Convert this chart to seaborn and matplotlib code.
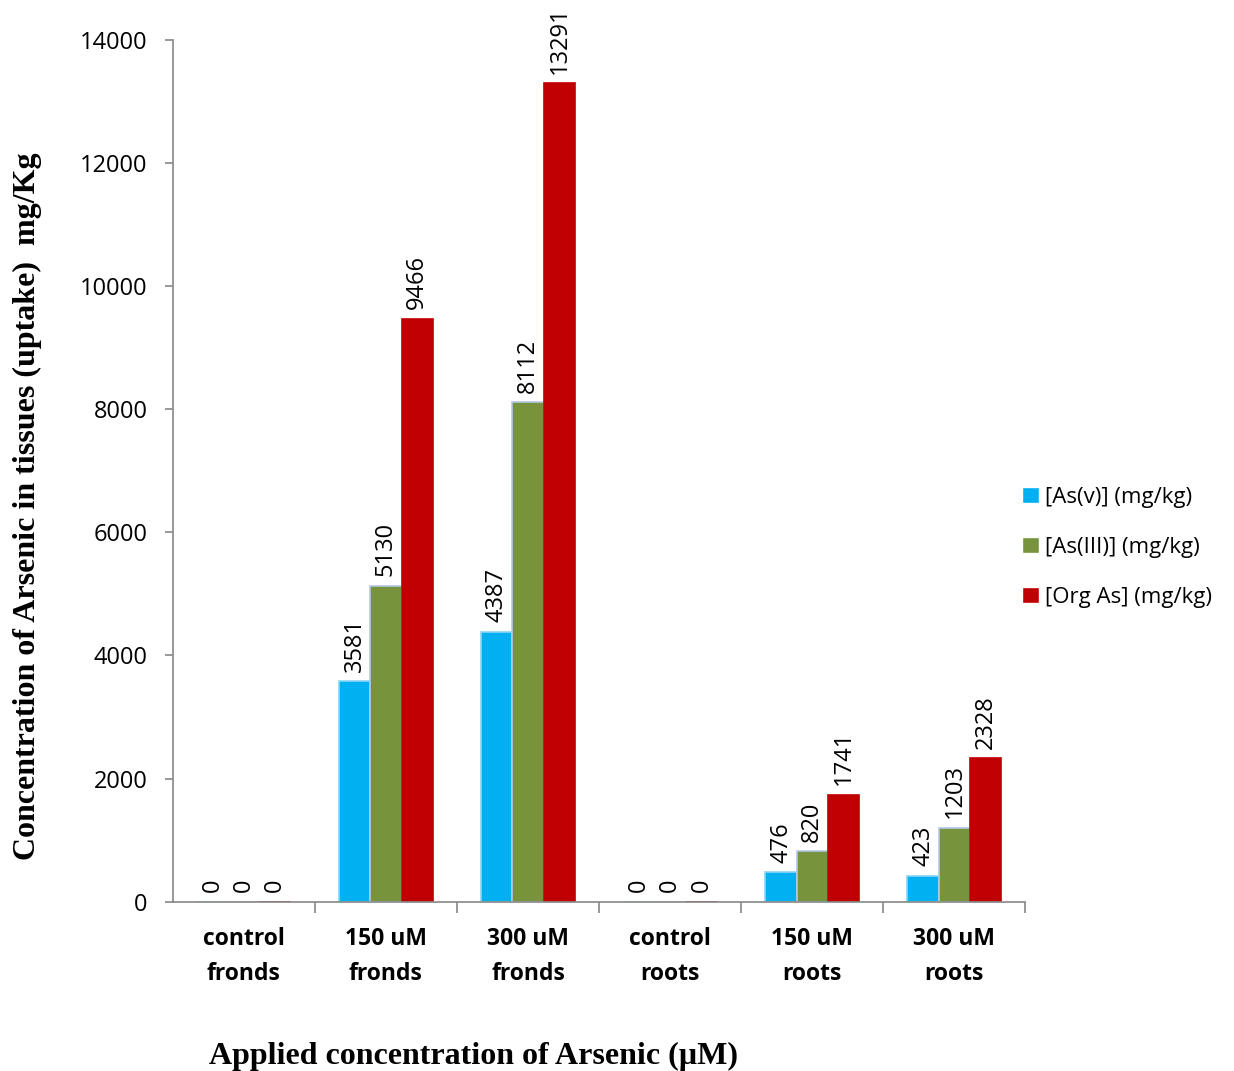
import numpy as np
import pandas as pd
import matplotlib
matplotlib.use("Agg")
import matplotlib.pyplot as plt
import seaborn as sns

# Data
categories = ["control\nfronds", "150 uM\nfronds", "300 uM\nfronds",
              "control\nroots", "150 uM\nroots", "300 uM\nroots"]
series_names = ["[As(v)] (mg/kg)", "[As(III)] (mg/kg)", "[Org As] (mg/kg)"]
as_v = [0, 3581, 4387, 0, 476, 423]
as_iii = [0, 5130, 8112, 0, 820, 1203]
org_as = [0, 9466, 13291, 0, 1741, 2328]
colors = ["#00B0F0", "#77933C", "#C00000"]

df = pd.DataFrame({
    "category": categories * 3,
    "series": np.repeat(series_names, len(categories)),
    "value": as_v + as_iii + org_as,
})

sns.set_theme(style="white", rc={"text.color": "black", "xtick.color": "black",
                                 "ytick.color": "black"})
plt.rcParams["font.family"] = ["Open Sans", "DejaVu Sans"]

fig = plt.figure(figsize=(12.34, 10.71), dpi=100)
ax = fig.add_axes([0.140, 0.158, 0.691, 0.805])

sns.barplot(data=df, x="category", y="value", hue="series", order=categories,
            hue_order=series_names, palette=colors, width=0.66, saturation=1,
            ax=ax, legend=True)

# thin light edges like the original
edge_cols = ["#8FD3F5", "#B4C7E7", "#C00000"]
for cont, ec in zip(ax.containers, edge_cols):
    for bar in cont:
        bar.set_edgecolor(ec)
        bar.set_linewidth(1.2)
    ax.bar_label(cont, fmt="%g", rotation=90, padding=7, fontsize=17)

ax.set_ylim(0, 14000)
ax.set_xlim(-0.5, 5.5)
ax.set_yticks(np.arange(0, 14001, 2000))
ax.tick_params(axis="y", labelsize=17, left=True, length=6, width=1.2,
               color="#888888", labelcolor="black", pad=12)
ax.set_xticks(range(len(categories)))
ax.set_xticklabels(categories, fontsize=16.5, fontweight="bold", linespacing=1.65)
ax.tick_params(axis="x", which="major", length=0, pad=18, labelcolor="black")
ax.set_xticks(np.arange(0.5, 6.0, 1.0), minor=True)
ax.tick_params(axis="x", which="minor", bottom=True, length=8, width=1.2,
               color="#888888")

for side in ["top", "right"]:
    ax.spines[side].set_visible(False)
for side in ["left", "bottom"]:
    ax.spines[side].set_color("#888888")
    ax.spines[side].set_linewidth(1.2)

ax.set_xlabel("")
ax.set_ylabel("")

handles, labels = ax.get_legend_handles_labels()
ax.get_legend().remove()
fig.legend(handles, labels, loc="center left", bbox_to_anchor=(0.812, 0.489),
           frameon=False, fontsize=16, handlelength=0.75, handleheight=0.75,
           handletextpad=0.3, labelspacing=1.3)

fig.text(0.384, 0.0, "Applied concentration of Arsenic (\u00b5M)",
         ha="center", va="bottom", fontsize=23, fontweight="bold",
         family="Liberation Serif")
fig.text(0.022, 0.527, "Concentration of Arsenic in tissues (uptake)  mg/Kg",
         ha="center", va="center", rotation=90, fontsize=23, fontweight="bold",
         family="Liberation Serif")

fig.savefig("out.png", dpi=100)
